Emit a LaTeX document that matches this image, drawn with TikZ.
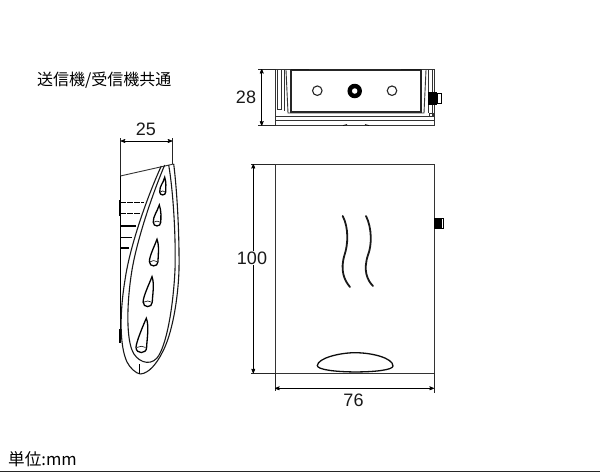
\documentclass[tikz,border=0pt]{standalone}
\usepackage{fontspec}
\setmainfont{Liberation Sans}
\newfontfamily\jpfont{Noto Sans CJK JP}
\usetikzlibrary{positioning,arrows}
\tikzset{dim_line/.style={<->,>=stealth',line width=0.7pt,black}}
\tikzset{ext_line/.style={line width=0.7pt,black!85}}
\tikzset{body_line/.style={line width=0.9pt,black!80}}
\tikzset{pen_line/.style={line width=1.1pt,black!90}}
\tikzset{dim_label/.style={font=\fontsize{18}{18}\selectfont,inner sep=1pt,black!90}}
\tikzset{drop_shape/.style={line width=1.3pt,black,fill=white}}
\begin{document}
\begin{tikzpicture}[x=1pt,y=-1pt]
  \useasboundingbox (0,0) rectangle (600,474);

  % titles
  \node[anchor=west,inner sep=0pt,font=\jpfont\fontsize{16}{16}\selectfont] (title) at (37,80) {送信機/受信機共通};
  \node[anchor=west,inner sep=0pt,font=\jpfont\fontsize{16.6}{17}\selectfont] (unit) at (8,459) {単位:mm};
  \coordinate (ruleL) at (0,471);
  \coordinate (ruleR) at (600,471);
  \draw[line width=0.8pt,black!85] (ruleL) -- (ruleR);

  % top view
  \draw[body_line] (275.7,69) rectangle (434,125.7);
  \draw[line width=1.1pt,black!85] (291,70) -- (421,70) -- (421,112) -- (291,112) -- cycle;
  \draw[line width=1.6pt,black!90] (291,69.5) -- (309,69.5) (401,69.5) -- (421,69.5);
  \draw[body_line] (275.7,116.7) -- (434,116.7);
  \draw[body_line] (275.7,120.7) -- (434,120.7);
  \draw[body_line] (277,69) -- (277,109) -- (281,109) -- (281,70);
  \draw[body_line] (284,70) -- (284,111);
  \draw[body_line] (286,70) -- (288,113) -- (424,113) -- (426,70);
  \draw[body_line] (428,70) -- (428,113);
  \draw[body_line] (432,70) -- (432,116);
  \draw[body_line] (429,113) rectangle (433,116.7);
  \draw[line width=0.7pt] (343,125.5) -- (347,124.5) (365,124.5) -- (369,125.5);
  \node[circle,draw,line width=1.1pt,black!85,minimum size=9.5pt,inner sep=0pt] (holeL) at (317.3,90.7) {};
  \node[circle,fill=black,minimum size=14.5pt,inner sep=0pt] (holeM) at (354.7,91) {};
  \node[circle,fill=white,minimum size=5.5pt,inner sep=0pt] (holeMin) at (holeM) {};
  \node[circle,draw,line width=1.1pt,black!85,minimum size=9.5pt,inner sep=0pt] (holeR) at (392,90.7) {};
  \fill[black] (428,92) rectangle (437,105);
  \draw[line width=0.8pt,fill=white] (437,93.5) rectangle (441.5,103);

  % side view
  \draw[body_line] (120.3,176) -- (173.7,164);
  \draw[line width=1pt] (120.3,176) -- (120.3,343);
  \draw[pen_line] (173.7,164) .. controls (177,190) and (179.5,235) .. (179,270)
    .. controls (178,300) and (172,335) .. (162,353) .. controls (157,363) and (149,373.5) .. (140.3,374);
  \draw[pen_line] (161.3,166) .. controls (148,195) and (130,245) .. (125,280)
    .. controls (120,310) and (119,345) .. (127,362) .. controls (130,368) and (136,373.5) .. (140.3,374);
  \draw[pen_line] (164.7,165) .. controls (152,195) and (137,240) .. (132,270)
    .. controls (127,300) and (126,335) .. (132,350) .. controls (136,361) and (149,367) .. (157,358)
    .. controls (166,347) and (173,310) .. (175,270) .. controls (176,235) and (173,190) .. (168.7,165);
  \draw[line width=0.8pt] (139.5,364) -- (139.5,374);
  \fill[black] (119,200) rectangle (121,216);
  \draw[line width=1.1pt,dash pattern=on 6pt off 1pt] (120.3,202.7) -- (143.7,202.7);
  \draw[line width=1.1pt,dash pattern=on 6pt off 1pt] (120.3,213.3) -- (140.3,213.3);
  \draw[line width=1.1pt] (120.3,226) -- (136,226);
  \draw[line width=1.1pt] (120.3,237.3) -- (132,237.3);
  \draw[line width=1.1pt] (120.3,248) -- (128.7,248);
  \draw[line width=0.8pt] (119.3,329) -- (119.3,343);
  % drop shapes on the side view
  \foreach \tipx/\tipy/\botx/\boty/\halfw in {164.7/177.3/162.7/195/3, 159.3/205/157/226/3.8, 157/239.3/153.7/266/4.3, 152/276.7/147.7/306.7/4.6, 146.3/318.3/141.3/352.7/5.3}{
    \draw[drop_shape] (\tipx,\tipy) .. controls (\tipx+0.6*\halfw,\tipy+7) and (\botx+\halfw,\boty-10) .. (\botx+\halfw,\boty-\halfw)
      .. controls (\botx+\halfw,\boty+0.3*\halfw) and (\botx-\halfw,\boty+0.3*\halfw) .. (\botx-\halfw,\boty-\halfw)
      .. controls (\botx-\halfw,\boty-10) and (\tipx-0.6*\halfw,\tipy+7) .. (\tipx,\tipy) -- cycle;
    \draw[line width=0.6pt] (\botx-0.8*\halfw,\boty-\halfw) .. controls (\botx-0.3*\halfw,\boty-\halfw-1.5) and (\botx+0.3*\halfw,\boty-\halfw-1.5) .. (\botx+0.8*\halfw,\boty-\halfw);
  }

  % front view
  \draw[body_line] (275,164) rectangle (434,373.3);
  \fill[black] (434,217.7) rectangle (441,229);
  \draw[line width=0.7pt,fill=white] (441,217.9) rectangle (443,228.8);
  \draw[line width=1.8pt,line cap=round,black!90] (342.7,216) .. controls (349,228) and (348,245) .. (344.5,255)
    .. controls (340,270) and (344,280) .. (350,287);
  \draw[line width=1.8pt,line cap=round,black!90] (366,216) .. controls (372,228) and (372,245) .. (368,255)
    .. controls (363,270) and (367,280) .. (373,286);
  \draw[line width=1.3pt,black!95] (317.3,365.5) .. controls (318,358) and (340,352.7) .. (355,352.7)
    .. controls (372,352.7) and (393,358) .. (393,366) .. controls (393,374) and (317,374) .. (317.3,365.5) -- cycle;

  % dimensions
  \coordinate (w25L) at (120.7,141);
  \coordinate (w25R) at (172.3,141);
  \draw[ext_line] (120.7,138) -- (120.7,176);
  \draw[ext_line] (172.3,138) -- (172.3,164);
  \node[dim_label] (w25) at (146,129.5) {25};
  \draw[dim_line] (w25L) -- (w25R);

  \coordinate (h28T) at (261.7,69);
  \coordinate (h28B) at (261.7,125.7);
  \draw[ext_line] (258,69) -- (276,69);
  \draw[ext_line] (258,125.7) -- (276,125.7);
  \draw[dim_line] (h28T) -- (h28B);
  \node[dim_label,fill=white] (h28) at (246,97.5) {28};

  \coordinate (h100T) at (253.3,164);
  \coordinate (h100B) at (253.3,373.3);
  \draw[ext_line] (251,164) -- (275,164);
  \draw[ext_line] (251,373.3) -- (275,373.3);
  \draw[dim_line] (h100T) -- (h100B);
  \node[dim_label,fill=white] (h100) at (252,258) {100};

  \coordinate (w76L) at (275,388.3);
  \coordinate (w76R) at (434,388.3);
  \draw[ext_line] (275,373) -- (275,391);
  \draw[ext_line] (434.5,373) -- (434.5,393);
  \draw[dim_line] (w76L) -- (w76R);
  \node[dim_label] (w76) at (353.5,400.5) {76};
\end{tikzpicture}
\end{document}
